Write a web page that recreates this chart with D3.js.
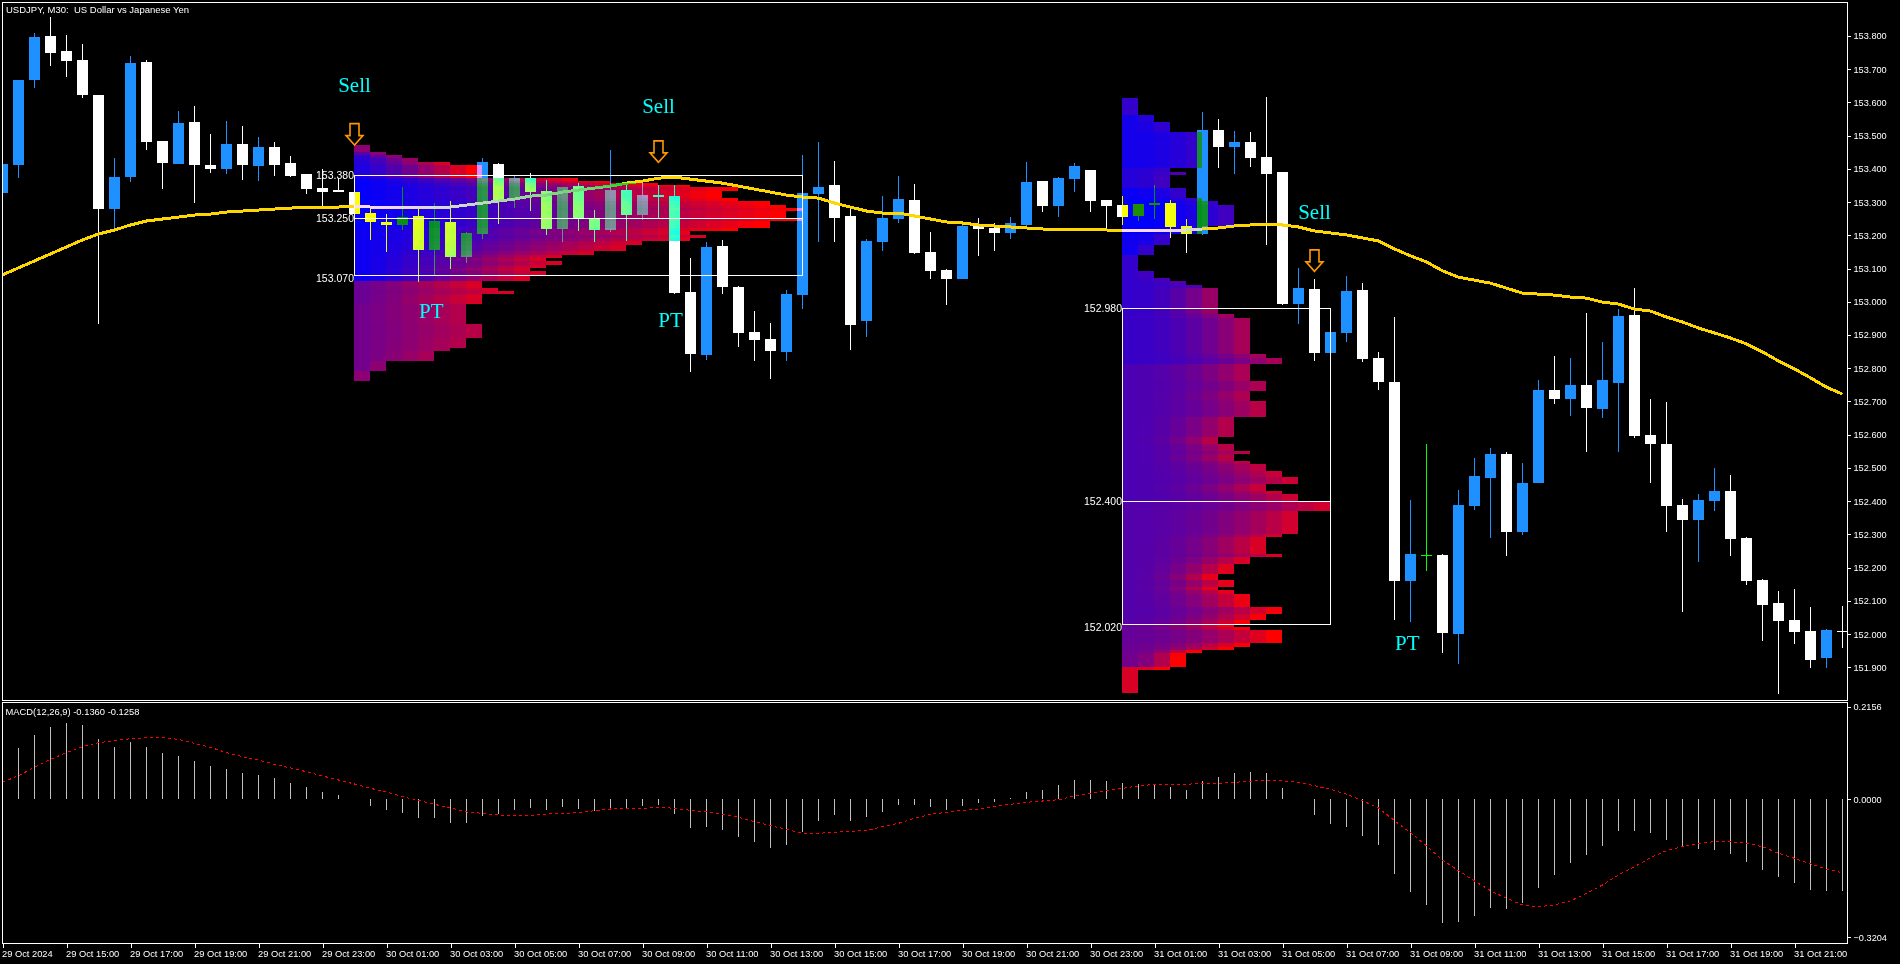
<!DOCTYPE html>
<html>
<head>
<meta charset="utf-8">
<script src="https://cdn.jsdelivr.net/npm/d3@7"></script>
<style>
    html, body { margin: 0; padding: 0; background: #000; overflow: hidden; }
    text { font-family: "Liberation Sans", sans-serif; fill: #fff; }
</style>
</head>
<body>
<svg id="chart" width="1900" height="964"></svg>
<script>
var opens = [153.327,153.412,153.667,153.800,153.755,153.727,153.622,153.279,153.375,153.721,153.484,153.415,153.541,153.412,153.399,153.475,153.409,153.466,153.418,153.384,153.342,153.336,153.330,153.267,153.240,153.231,153.258,153.156,153.240,153.135,153.204,153.415,153.312,153.372,153.333,153.219,153.348,153.252,153.216,153.336,153.261,153.321,153.318,153.029,152.840,153.168,153.044,152.909,152.888,152.849,153.020,153.324,153.351,153.258,152.942,153.180,153.249,153.306,153.150,153.096,153.069,153.234,153.222,153.207,153.231,153.363,153.288,153.369,153.396,153.306,153.291,153.258,153.291,153.297,153.228,153.204,153.517,153.466,153.481,153.436,153.390,152.993,153.038,152.846,152.906,153.035,152.831,152.759,152.160,152.238,152.238,152.000,152.385,152.470,152.542,152.307,152.455,152.734,152.707,152.750,152.677,152.756,152.960,152.599,152.572,152.388,152.343,152.400,152.431,152.289,152.163,152.094,152.042,152.009,151.928,152.009]
var highs = [153.415,153.667,153.809,153.857,153.803,153.776,153.622,153.433,153.740,153.727,153.484,153.574,153.589,153.505,153.544,153.529,153.496,153.481,153.439,153.384,153.399,153.372,153.330,153.285,153.264,153.345,153.279,153.297,153.303,153.210,153.433,153.418,153.378,153.387,153.366,153.345,153.357,153.276,153.457,153.354,153.366,153.351,153.351,153.132,153.180,153.186,153.047,152.972,152.936,153.035,153.442,153.481,153.424,153.279,153.189,153.318,153.378,153.354,153.210,153.099,153.231,153.252,153.237,153.255,153.421,153.363,153.375,153.418,153.396,153.306,153.318,153.294,153.351,153.306,153.249,153.571,153.550,153.514,153.511,153.616,153.390,153.102,153.068,152.909,153.077,153.056,152.849,152.954,152.403,152.572,152.241,152.434,152.530,152.560,152.548,152.515,152.765,152.837,152.831,152.966,152.879,152.978,153.041,152.707,152.698,152.407,152.422,152.500,152.479,152.292,152.166,152.130,152.136,152.082,152.015,152.085]
var lows = [153.327,153.372,153.643,153.709,153.676,153.613,152.933,153.216,153.360,153.457,153.339,153.415,153.297,153.387,153.384,153.366,153.363,153.378,153.375,153.324,153.282,153.330,153.264,153.186,153.150,153.216,153.059,153.081,153.099,153.117,153.189,153.234,153.282,153.273,153.201,153.180,153.213,153.180,153.210,153.183,153.246,153.252,153.023,152.789,152.825,153.023,152.864,152.822,152.768,152.822,152.978,153.180,153.180,152.855,152.894,153.153,153.237,153.144,153.069,152.990,153.069,153.138,153.153,153.189,153.228,153.270,153.255,153.330,153.270,153.216,153.231,153.243,153.249,153.192,153.147,153.201,153.402,153.384,153.405,153.171,152.990,152.933,152.822,152.846,152.879,152.819,152.734,152.042,152.036,152.190,151.943,151.910,152.373,152.289,152.235,152.298,152.455,152.692,152.656,152.548,152.650,152.548,152.590,152.455,152.307,152.066,152.217,152.370,152.235,152.148,151.979,151.820,151.970,151.898,151.898,151.958]
var closes = [153.415,153.667,153.797,153.749,153.724,153.622,153.279,153.375,153.718,153.481,153.418,153.538,153.412,153.399,153.475,153.412,153.466,153.412,153.378,153.339,153.330,153.330,153.264,153.240,153.231,153.255,153.156,153.243,153.135,153.207,153.421,153.303,153.372,153.330,153.219,153.345,153.252,153.216,153.336,153.261,153.321,153.315,153.026,152.843,153.165,153.044,152.906,152.885,152.852,153.023,153.327,153.345,153.252,152.930,153.183,153.252,153.309,153.147,153.093,153.069,153.228,153.219,153.207,153.237,153.360,153.288,153.372,153.409,153.303,153.288,153.255,153.294,153.297,153.225,153.204,153.517,153.466,153.481,153.433,153.384,152.993,153.041,152.846,152.909,153.032,152.828,152.759,152.160,152.241,152.238,152.003,152.388,152.476,152.542,152.307,152.455,152.734,152.707,152.750,152.680,152.765,152.957,152.596,152.572,152.385,152.343,152.403,152.431,152.286,152.160,152.088,152.039,152.006,151.922,152.012,152.006]

var maValues = [153.081,153.102,153.123,153.144,153.165,153.186,153.204,153.216,153.231,153.243,153.249,153.255,153.261,153.264,153.270,153.273,153.276,153.279,153.282,153.284,153.285,153.285,153.288,153.285,153.285,153.285,153.285,153.285,153.285,153.291,153.297,153.303,153.309,153.318,153.321,153.330,153.336,153.342,153.348,153.357,153.363,153.372,153.375,153.369,153.363,153.357,153.348,153.339,153.330,153.321,153.315,153.312,153.297,153.285,153.273,153.267,153.267,153.258,153.249,153.240,153.237,153.231,153.228,153.225,153.222,153.219,153.216,153.216,153.216,153.216,153.213,153.213,153.213,153.213,153.216,153.219,153.222,153.228,153.231,153.234,153.231,153.225,153.213,153.207,153.201,153.192,153.183,153.159,153.138,153.120,153.093,153.074,153.065,153.056,153.041,153.026,153.023,153.020,153.014,153.011,152.999,152.993,152.978,152.972,152.954,152.939,152.921,152.906,152.891,152.873,152.849,152.822,152.798,152.771,152.743,152.722]

var macdHist = [0,.1185,.1487,.1673,.1766,.1742,.1417,.1231,.1347,.1231,.1069,.1022,.0883,.0767,.0697,.0604,.0558,.0488,.0372,.0279,.0163,.0093,.0012,-.0151,-.0244,-.0314,-.0430,-.0430,-.0546,-.0546,-.0383,-.0337,-.0244,-.0197,-.0244,-.0174,-.0221,-.0267,-.0197,-.0197,-.0151,-.0128,-.0337,-.0662,-.0639,-.0709,-.0871,-.0987,-.1127,-.1057,-.0755,-.0499,-.0360,-.0499,-.0407,-.0290,-.0128,-.0128,-.0174,-.0244,-.0151,-.0081,-.0058,.0035,.0174,.0221,.0337,.0453,.0453,.0430,.0383,.0360,.0360,.0290,.0221,.0430,.0523,.0616,.0639,.0616,.0267,0,-.0360,-.0569,-.0639,-.0848,-.1057,-.1731,-.2149,-.2451,-.2869,-.2846,-.2706,-.2520,-.2544,-.2404,-.2056,-.1754,-.1475,-.1289,-.1080,-.0732,-.0732,-.0778,-.0941,-.1103,-.1150,-.1173,-.1266,-.1452,-.1638,-.1800,-.1940,-.2102,-.2126,-.2126]
var macdSignal = [.0400,.0553,.0748,.0934,.1087,.1227,.1319,.1366,.1412,.1436,.1436,.1398,.1306,.1213,.1087,.0994,.0918,.0818,.0732,.0646,.0546,.0453,.0360,.0260,.0174,.0065,-.0019,-.0112,-.0197,-.0290,-.0321,-.0360,-.0367,-.0367,-.0337,-.0321,-.0307,-.0260,-.0221,-.0204,-.0204,-.0181,-.0204,-.0251,-.0290,-.0344,-.0413,-.0516,-.0609,-.0692,-.0785,-.0785,-.0762,-.0739,-.0725,-.0632,-.0553,-.0437,-.0344,-.0297,-.0251,-.0221,-.0158,-.0112,-.0065,-.0035,-.0005,.0081,.0144,.0204,.0260,.0314,.0353,.0353,.0353,.0376,.0376,.0400,.0423,.0453,.0430,.0400,.0321,.0237,.0121,-.0028,-.0197,-.0492,-.0771,-.1080,-.1405,-.1654,-.1893,-.2119,-.2295,-.2451,-.2490,-.2451,-.2358,-.2179,-.1986,-.1754,-.1561,-.1352,-.1189,-.1096,-.1017,-.0980,-.0980,-.1017,-.1096,-.1250,-.1366,-.1498,-.1621,-.1700]

var priceTicks = [153.8,153.7,153.6,153.5,153.4,153.3,153.2,153.1,153.0,152.9,152.8,152.7,152.6,152.5,152.4,152.3,152.2,152.1,152.0,151.9]
var macdTicks = [0.2156,0,-0.3204]
var timeTickBars = [0,4,8,12,16,20,24,28,32,36,40,44,48,52,56,60,64,68,72,76,80,84,88,92,96,100,104,108,112]
var timeLabels = ["29 Oct 2024","29 Oct 15:00","29 Oct 17:00","29 Oct 19:00","29 Oct 21:00","29 Oct 23:00","30 Oct 01:00","30 Oct 03:00","30 Oct 05:00","30 Oct 07:00","30 Oct 09:00","30 Oct 11:00","30 Oct 13:00","30 Oct 15:00","30 Oct 17:00","30 Oct 19:00","30 Oct 21:00","30 Oct 23:00","31 Oct 01:00","31 Oct 03:00","31 Oct 05:00","31 Oct 07:00","31 Oct 09:00","31 Oct 11:00","31 Oct 13:00","31 Oct 15:00","31 Oct 17:00","31 Oct 19:00","31 Oct 21:00"]

// volume profiles: row top price, row length in bars, heat at both ends of the row
var profile1Start = 22
var profile1Tops = [153.472,153.452,153.442,153.434,153.421,153.412,153.372,153.364,153.358,153.351,153.344,153.334,153.313,153.303,153.291,153.283,153.273,153.251,153.243,153.221,153.213,153.202,153.193,153.183,153.171,153.153,153.141,153.132,153.122,153.111,153.102,153.093,153.080,153.062,153.042,153.032,153.023,152.993,152.933,152.891,152.861,152.851,152.822,152.792]
var profile1Lens = [1,2,3,4,6,8,14,16,19,21,24,23,24,26,27,28,27,28,26,24,21,22,21,18,17,15,13,12,13,12,11,12,11,8,9,10,8,7,8,7,6,5,2,1]
var profile1HeatStart = [.55,.35,.2,.15,.15,.12,.04,.02,.02,.02,.02,.02,.02,.02,.02,.02,.02,.02,.02,.05,.05,.05,.05,.05,.05,.05,.05,.05,.05,.05,.05,.05,.05,.42,.42,.42,.42,.45,.45,.45,.45,.45,.45,.55]
var profile1HeatEnd = [.55,.55,.55,.6,.85,1,.95,.95,.97,1,1,1,1,1,1,1,1,1,1,1,.9,.85,.9,.85,.85,.85,.85,.85,.85,.85,.85,.85,.85,.85,.85,.85,.85,.7,.72,.7,.65,.65,.55,.55]
var profile1Bottom = 152.762
var profile1Curve = 1.2

var profile2Start = 70
var profile2Tops = [153.613,153.562,153.541,153.511,153.402,153.390,153.381,153.342,153.312,153.303,153.291,153.228,153.204,153.171,153.141,153.093,153.072,153.062,153.050,153.041,152.963,152.951,152.843,152.831,152.813,152.762,152.732,152.701,152.653,152.593,152.572,152.551,152.542,152.521,152.512,152.491,152.473,152.452,152.431,152.422,152.400,152.370,152.301,152.292,152.241,152.232,152.211,152.181,152.163,152.142,152.133,152.121,152.082,152.060,152.042,152.030,152.021,152.012,151.973,151.961,151.952,151.943,151.901,151.892]
var profile2Lens = [1,2,3,5,3,4,3,4,5,6,7,5,3,2,1,2,3,4,5,6,7,8,9,10,8,9,8,9,7,6,7,8,7,8,9,10,11,9,10,11,13,11,10,9,10,8,7,6,7,6,7,8,10,9,8,7,8,10,8,7,5,4,3,1]
var profile2HeatStart = [.2,.08,.08,.08,.15,.15,.15,.04,.02,0,0,0,.06,.06,.2,.2,.2,.2,.2,.2,.22,.22,.22,.22,.3,.3,.3,.3,.3,.3,.3,.3,.3,.3,.3,.3,.3,.3,.3,.3,.33,.33,.33,.33,.33,.33,.33,.33,.33,.33,.33,.33,.33,.33,.35,.4,.4,.4,.42,.42,.42,.45,.85,.85]
var profile2HeatEnd = [.2,.14,.18,.2,.22,.3,.25,.2,.2,.22,.25,.15,.2,.2,.2,.25,.28,.32,.32,.6,.62,.65,.65,.65,.67,.68,.68,.72,.7,.72,.72,.72,.72,.72,.75,.78,.8,.78,.8,.8,.82,.82,.82,.85,.85,.85,.88,.9,.9,.9,.9,.92,.97,.97,.97,.97,.97,1,1,1,1,1,1,.85]
var profile2Bottom = 151.823
var profile2Curve = 2

var box1Bars = [22,50]
var box1Levels = [153.380,153.251,153.080]
var box1Labels = [153.380,153.250,153.070]
var box2Bars = [70,83]
var box2Levels = [152.980,152.400,152.029]
var box2Labels = [152.980,152.400,152.020]

var sellBars = [22,41,82]
var sellArrowTips = [153.470,153.418,153.090]
var sellTextPrices = [153.630,153.568,153.249]
var ptBars = [26.8,41.75,87.8]
var ptPrices = [152.951,152.925,151.952]

var dims = {
    width: 1900,
    height: 964,
    left: 2.5,
    right: 1847.5,
    mainTop: 2.5,
    mainBottom: 700.5,
    macdTop: 702.5,
    macdBottom: 943.5
}

var svg = d3.select("#chart")

svg.append("rect")
   .attr("width", dims.width)
   .attr("height", dims.height)
   .attr("fill", "#000")

var xScale = d3.scaleLinear().domain([0, 115]).range([2.5, 1842.5])
var yScale = d3.scaleLinear().domain([153.2, 151.9]).range([235.3, 667.3])
var macdScale = d3.scaleLinear().domain([0.2156, -0.3204]).range([706.7, 937.4])
var heatColor = d3.scaleLinear().domain([0, 1]).range(["#0000ff", "#ff0000"])

svg.append("clipPath")
   .attr("id", "mainClip")
   .append("rect")
   .attr("x", dims.left)
   .attr("y", dims.mainTop)
   .attr("width", dims.right - dims.left)
   .attr("height", dims.mainBottom - dims.mainTop)

var bars = d3.range(opens.length)

var candleColor = function(i) {
    if (opens[i] == closes[i]) return "#00ff00"
    return closes[i] > opens[i] ? "#1e90ff" : "#ffffff"
}

var candles = svg.append("g")
                 .attr("clip-path", "url(#mainClip)")
                 .attr("shape-rendering", "crispEdges")

candles.selectAll("line")
       .data(bars)
       .enter()
       .append("line")
       .attr("x1", i => xScale(i))
       .attr("x2", i => xScale(i))
       .attr("y1", i => yScale(highs[i]))
       .attr("y2", i => yScale(lows[i]))
       .attr("stroke", candleColor)

candles.selectAll("rect")
       .data(bars)
       .enter()
       .append("rect")
       .attr("x", i => xScale(i) - 5.5)
       .attr("width", 11)
       .attr("y", i => Math.round(yScale(Math.max(opens[i], closes[i]))))
       .attr("height", i => Math.max(1, Math.round(Math.abs(yScale(opens[i]) - yScale(closes[i])))))
       .attr("fill", candleColor)

var maLine = d3.line()
               .x((d, i) => xScale(i))
               .y(d => yScale(d))

svg.append("path")
   .attr("d", maLine(maValues))
   .attr("fill", "none")
   .attr("stroke", "#ffd700")
   .attr("stroke-width", 3)
   .attr("shape-rendering", "crispEdges")
   .attr("clip-path", "url(#mainClip)")

// profile sits on top of the candles and inverts them, like the terminal does
var profileLayer = svg.append("g")
                      .style("mix-blend-mode", "difference")
                      .attr("shape-rendering", "crispEdges")

function drawProfile(start, tops, lens, heatStart, heatEnd, bottom, curve) {
    var cells = []
    tops.forEach(function(top, r) {
        var next = r + 1 < tops.length ? tops[r + 1] : bottom
        for (var c = 0; c < lens[r]; c++) {
            var f = lens[r] > 1 ? Math.pow(c / (lens[r] - 1), curve) : 0
            cells.push({ bar: start + c, top: top, next: next, heat: heatStart[r] + (heatEnd[r] - heatStart[r]) * f })
        }
    })
    profileLayer.append("g")
                .selectAll("rect")
                .data(cells)
                .enter()
                .append("rect")
                .attr("x", d => xScale(d.bar) - 0.5)
                .attr("width", 16)
                .attr("y", d => Math.round(yScale(d.top)))
                .attr("height", d => Math.round(yScale(d.next)) - Math.round(yScale(d.top)))
                .attr("fill", d => heatColor(d.heat))
}

drawProfile(profile1Start, profile1Tops, profile1Lens, profile1HeatStart, profile1HeatEnd, profile1Bottom, profile1Curve)
drawProfile(profile2Start, profile2Tops, profile2Lens, profile2HeatStart, profile2HeatEnd, profile2Bottom, profile2Curve)

function drawBox(barRange, levels, labels) {
    var g = svg.append("g").attr("shape-rendering", "crispEdges")
    g.append("rect")
     .attr("x", xScale(barRange[0]))
     .attr("y", yScale(levels[0]))
     .attr("width", xScale(barRange[1]) - xScale(barRange[0]))
     .attr("height", yScale(levels[2]) - yScale(levels[0]))
     .attr("fill", "none")
     .attr("stroke", "#fff")
    g.append("line")
     .attr("x1", xScale(barRange[0]))
     .attr("x2", xScale(barRange[1]))
     .attr("y1", yScale(levels[1]))
     .attr("y2", yScale(levels[1]))
     .attr("stroke", "#fff")
    svg.append("g")
       .selectAll("text")
       .data(labels)
       .enter()
       .append("text")
       .attr("x", xScale(barRange[0]) - 0.5)
       .attr("y", d => yScale(d))
       .attr("dy", "0.36em")
       .attr("text-anchor", "end")
       .attr("font-size", "10.5px")
       .text(d => d3.format(".3f")(d))
}

drawBox(box1Bars, box1Levels, box1Labels)
drawBox(box2Bars, box2Levels, box2Labels)

// hollow sell arrows, tip at the price
svg.append("g")
   .selectAll("path")
   .data(sellBars)
   .enter()
   .append("path")
   .attr("transform", (d, i) => `translate(${xScale(d)},${yScale(sellArrowTips[i])})`)
   .attr("d", "M0,-0.5 L-8.5,-10 L-4.5,-10 L-4.5,-22 L4.5,-22 L4.5,-10 L8.5,-10 Z")
   .attr("fill", "#000")
   .attr("stroke", "#ff9800")
   .attr("stroke-width", 1.6)

svg.append("g")
   .selectAll("text")
   .data(sellBars)
   .enter()
   .append("text")
   .attr("x", d => xScale(d))
   .attr("y", (d, i) => yScale(sellTextPrices[i]))
   .attr("text-anchor", "middle")
   .style("font-family", "'Liberation Serif', serif")
   .style("fill", "#00ffff")
   .attr("font-size", "21px")
   .text("Sell")

svg.append("g")
   .selectAll("text")
   .data(ptBars)
   .enter()
   .append("text")
   .attr("x", d => xScale(d))
   .attr("y", (d, i) => yScale(ptPrices[i]))
   .attr("text-anchor", "middle")
   .style("font-family", "'Liberation Serif', serif")
   .style("fill", "#00ffff")
   .attr("font-size", "21px")
   .text("PT")

// MACD pane
svg.append("g")
   .attr("shape-rendering", "crispEdges")
   .selectAll("line")
   .data(bars)
   .enter()
   .append("line")
   .attr("x1", i => xScale(i))
   .attr("x2", i => xScale(i))
   .attr("y1", macdScale(0))
   .attr("y2", i => macdScale(macdHist[i]))
   .attr("stroke", "#c0c0c0")

var signalLine = d3.line()
                   .x((d, i) => xScale(i))
                   .y(d => macdScale(d))

svg.append("path")
   .attr("d", signalLine(macdSignal))
   .attr("fill", "none")
   .attr("stroke", "#ff0000")
   .attr("stroke-width", 1)
   .attr("stroke-dasharray", "3,3")
   .attr("shape-rendering", "crispEdges")

// frames
svg.append("g")
   .attr("shape-rendering", "crispEdges")
   .selectAll("rect")
   .data([[dims.mainTop, dims.mainBottom], [dims.macdTop, dims.macdBottom]])
   .enter()
   .append("rect")
   .attr("x", dims.left)
   .attr("y", d => d[0])
   .attr("width", dims.right - dims.left)
   .attr("height", d => d[1] - d[0])
   .attr("fill", "none")
   .attr("stroke", "#fff")

// axes
function styleAxis(axis) {
    axis.select(".domain").remove()
    axis.selectAll("line").attr("stroke", "#fff").attr("shape-rendering", "crispEdges")
    axis.selectAll("text").attr("font-size", "9.2px").attr("font-family", null)
}

var priceAxis = svg.append("g")
                   .attr("transform", `translate(${dims.right},0)`)
                   .call(d3.axisRight(yScale).tickValues(priceTicks).tickFormat(d3.format(".3f")).tickSize(3).tickPadding(3))
styleAxis(priceAxis)

var macdAxis = svg.append("g")
                  .attr("transform", `translate(${dims.right},0)`)
                  .call(d3.axisRight(macdScale).tickValues(macdTicks).tickFormat(d3.format(".4f")).tickSize(3).tickPadding(3))
styleAxis(macdAxis)

var timeAxis = svg.append("g")
                  .attr("transform", `translate(0,${dims.macdBottom})`)
                  .call(d3.axisBottom(xScale).tickValues(timeTickBars).tickFormat((d, i) => timeLabels[i]).tickSize(4).tickPadding(3))
styleAxis(timeAxis)
timeAxis.selectAll("text").attr("text-anchor", "start").attr("dx", -1).attr("font-size", "9.3px")

svg.append("text")
   .attr("x", 6)
   .attr("y", 13)
   .attr("font-size", "9.5px")
   .text("USDJPY, M30:  US Dollar vs Japanese Yen")
   .style("white-space", "pre")

svg.append("text")
   .attr("x", 5.5)
   .attr("y", 715)
   .attr("font-size", "9.4px")
   .text("MACD(12,26,9) -0.1360 -0.1258")
</script>
</body>
</html>
